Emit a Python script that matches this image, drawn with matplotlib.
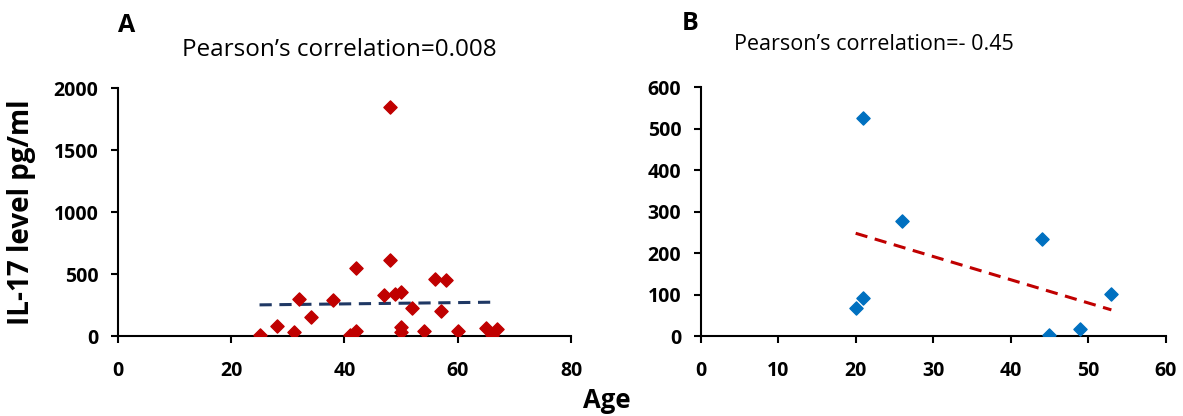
import numpy as np
import matplotlib
matplotlib.use("Agg")
import matplotlib.pyplot as plt

plt.rcParams['font.family'] = ['Open Sans', 'DejaVu Sans']

# Panel A: all subjects
age_a = [48, 48, 42, 56, 58, 47, 49, 50, 32, 38, 52, 57, 34, 28, 25,
         31, 41, 42, 50, 50, 54, 60, 65, 66, 67]
il17_a = [1845, 613, 546, 460, 449, 330, 337, 352, 301, 288, 228, 202, 156,
          83, 5, 30, 5, 38, 70, 30, 38, 43, 62, 8, 56]

# Panel B: subgroup
age_b = [21, 26, 44, 20, 21, 53, 45, 49]
il17_b = [527, 277, 234, 68, 91, 101, 2, 16]

titles = ["Pearson\u2019s correlation=0.008", "Pearson\u2019s correlation=- 0.45"]
letters = ["A", "B"]


def style_axis(ax):
    for side in ("top", "right"):
        ax.spines[side].set_visible(False)
    for side in ("left", "bottom"):
        ax.spines[side].set_linewidth(1.5)
        ax.spines[side].set_clip_on(False)
    ax.tick_params(direction="out", length=5, width=1.5, labelsize=14)
    ax.tick_params(axis="x", pad=13)
    ax.tick_params(axis="y", pad=9)
    for lbl in ax.get_xticklabels() + ax.get_yticklabels():
        lbl.set_fontweight("bold")


def trend(ax, x, y, color):
    k, b = np.polyfit(x, y, 1)
    xs = np.array([min(x), max(x)])
    ax.plot(xs, k * xs + b, "--", color=color, lw=2.2, dashes=(4, 2.5))


fig = plt.figure(figsize=(11.83, 4.16), dpi=100)
ax1 = fig.add_axes([0.0997, 0.1923, 0.383, 0.596])
ax2 = fig.add_axes([0.5923, 0.1923, 0.393, 0.598])

ax1.scatter(age_a, il17_a, marker="D", s=45, color="#C00000", zorder=3)
trend(ax1, age_a, il17_a, "#1F3864")
ax1.set_xlim(0, 80)
ax1.set_ylim(0, 2000)
ax1.set_xticks(range(0, 81, 20))
ax1.set_yticks(range(0, 2001, 500))
style_axis(ax1)

ax2.scatter(age_b, il17_b, marker="D", s=45, color="#0070C0", zorder=3)
trend(ax2, age_b, il17_b, "#C00000")
ax2.set_xlim(0, 60)
ax2.set_ylim(0, 600)
ax2.set_xticks(range(0, 61, 10))
ax2.set_yticks(range(0, 601, 100))
style_axis(ax2)

fig.text(339 / 1183, 1 - 50 / 416, titles[0], ha="center", va="center", fontsize=17.5)
fig.text(874 / 1183, 1 - 44 / 416, titles[1], ha="center", va="center", fontsize=15.5)
fig.text(127 / 1183, 1 - 26 / 416, letters[0], ha="center", va="center",
         fontsize=18, fontweight="bold")
fig.text(690 / 1183, 1 - 24 / 416, letters[1], ha="center", va="center",
         fontsize=18, fontweight="bold")
fig.text(22 / 1183, 1 - 212 / 416, "IL-17 level pg/ml", ha="center", va="center",
         rotation=90, fontsize=20, fontweight="bold")
fig.text(607 / 1183, 1 - 400 / 416, "Age", ha="center", va="center",
         fontsize=18.5, fontweight="bold")

fig.savefig("out.png", dpi=100)
